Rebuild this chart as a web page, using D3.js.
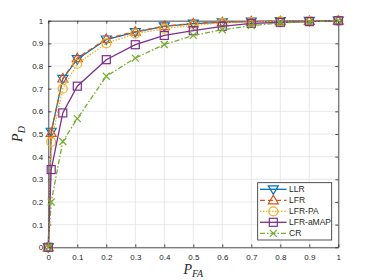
<!DOCTYPE html>
<html>
<head>
<meta charset="utf-8">
<script src="https://cdn.jsdelivr.net/npm/d3@7"></script>
<style>
  body { margin: 0; background: #fff; }
  svg { display: block; }
  .tick text { font-family: "Liberation Sans", Arial, sans-serif; font-size: 8px; fill: #262626; }
</style>
</head>
<body>
<div id="chart"></div>
<script>
var width = 374,
    height = 280;

// P_FA values (x) shared by all curves
var pfa = [0, 0.01, 0.05, 0.1, 0.2, 0.3, 0.4, 0.5, 0.6, 0.7, 0.8, 0.9, 1];
var names = ["LLR", "LFR", "LFR-PA", "LFR-aMAP", "CR"];
var llr   = [0, 0.51, 0.743, 0.83, 0.917, 0.95, 0.975, 0.987, 0.993, 0.996, 0.998, 0.999, 1];
var lfr   = [0, 0.505, 0.745, 0.835, 0.92, 0.952, 0.976, 0.988, 0.994, 0.997, 0.998, 0.999, 1];
var lfrpa = [0, 0.465, 0.70, 0.81, 0.90, 0.943, 0.965, 0.98, 0.99, 0.994, 0.997, 0.999, 1];
var amap  = [0, 0.343, 0.593, 0.711, 0.828, 0.894, 0.935, 0.956, 0.975, 0.988, 0.992, 0.996, 1];
var cr    = [0, 0.20, 0.467, 0.568, 0.755, 0.835, 0.895, 0.935, 0.96, 0.978, 0.99, 0.996, 1];
var xTicks = [0, 0.1, 0.2, 0.3, 0.4, 0.5, 0.6, 0.7, 0.8, 0.9, 1];
var yTicks = [0, 0.1, 0.2, 0.3, 0.4, 0.5, 0.6, 0.7, 0.8, 0.9, 1];

var series = [
  {name: names[0], values: llr,   color: "#0072BD", dash: null,      marker: "tridown"},
  {name: names[1], values: lfr,   color: "#D95319", dash: "5,3",     marker: "triup"},
  {name: names[2], values: lfrpa, color: "#EDB120", dash: "1.5,1.5", marker: "circle"},
  {name: names[3], values: amap,  color: "#7E2F8E", dash: null,      marker: "square"},
  {name: names[4], values: cr,    color: "#77AC30", dash: "5,2,1.5,2", marker: "cross"}
];

// plot box
var pLeft = 48.3, pRight = 338.3, pTop = 20.7, pBottom = 247.3;

var svg = d3.select("#chart").append("svg")
  .attr("width", width)
  .attr("height", height);

var x = d3.scaleLinear().domain([0, 1]).range([pLeft, pRight]);
var y = d3.scaleLinear().domain([0, 1]).range([pBottom, pTop]);

// grid
var grid = svg.append("g");
grid.selectAll(".gx").data(xTicks).enter().append("line")
  .attr("x1", d => x(d)).attr("x2", d => x(d))
  .attr("y1", pTop).attr("y2", pBottom)
  .attr("stroke", "#e3e3e3").attr("stroke-width", 0.8);
grid.selectAll(".gy").data(yTicks).enter().append("line")
  .attr("y1", d => y(d)).attr("y2", d => y(d))
  .attr("x1", pLeft).attr("x2", pRight)
  .attr("stroke", "#e3e3e3").attr("stroke-width", 0.8);

// axes, ticks inward like matlab
function styleAxis(g) {
  g.select(".domain").attr("stroke", "#262626").attr("stroke-width", 0.8);
  g.selectAll(".tick line").attr("stroke", "#262626").attr("stroke-width", 0.8);
}
svg.append("g").attr("transform", "translate(0," + pBottom + ")")
  .call(d3.axisBottom(x).tickValues(xTicks).tickSizeInner(-3).tickSizeOuter(0).tickPadding(7).tickFormat(d3.format("~g")))
  .call(styleAxis);
svg.append("g").attr("transform", "translate(0," + pTop + ")")
  .call(d3.axisTop(x).tickValues(xTicks).tickSizeInner(-3).tickSizeOuter(0).tickFormat(""))
  .call(styleAxis);
svg.append("g").attr("transform", "translate(" + pLeft + ",0)")
  .call(d3.axisLeft(y).tickValues(yTicks).tickSizeInner(-3).tickSizeOuter(0).tickPadding(5).tickFormat(d3.format("~g")))
  .call(styleAxis);
svg.append("g").attr("transform", "translate(" + pRight + ",0)")
  .call(d3.axisRight(y).tickValues(yTicks).tickSizeInner(-3).tickSizeOuter(0).tickFormat(""))
  .call(styleAxis);

// marker shapes
function drawMarker(g, type, color) {
  if (type === "tridown") {
    g.append("path").attr("d", "M-5,-3.5L5,-3.5L0,5Z");
  } else if (type === "triup") {
    g.append("path").attr("d", "M-5,3.5L5,3.5L0,-5Z");
  } else if (type === "circle") {
    g.append("circle").attr("r", 4.5);
  } else if (type === "square") {
    g.append("rect").attr("x", -4).attr("y", -4).attr("width", 8).attr("height", 8);
  } else if (type === "cross") {
    g.append("path").attr("d", "M-3.5,-3.5L3.5,3.5M-3.5,3.5L3.5,-3.5");
  }
  g.selectAll("*").attr("fill", "none").attr("stroke", color).attr("stroke-width", 1.2);
}

var line = d3.line().x(d => x(d[0])).y(d => y(d[1]));

series.forEach(function(s) {
  var pts = pfa.map((p, i) => [p, s.values[i]]);
  var g = svg.append("g");
  g.append("path")
    .attr("d", line(pts))
    .attr("fill", "none")
    .attr("stroke", s.color)
    .attr("stroke-width", 1.3)
    .attr("stroke-dasharray", s.dash);
  g.selectAll(".m").data(pts).enter().append("g")
    .attr("transform", d => "translate(" + x(d[0]) + "," + y(d[1]) + ")")
    .each(function() { drawMarker(d3.select(this), s.marker, s.color); });
});

// legend
var lg = svg.append("g");
lg.append("rect")
  .attr("x", 257.7).attr("y", 182.7)
  .attr("width", 74).attr("height", 57.3)
  .attr("fill", "#fff").attr("stroke", "#262626").attr("stroke-width", 0.8);
series.forEach(function(s, i) {
  var ly = 189.3 + i * 11;
  lg.append("line")
    .attr("x1", 260).attr("x2", 286.5)
    .attr("y1", ly).attr("y2", ly)
    .attr("stroke", s.color).attr("stroke-width", 1.3)
    .attr("stroke-dasharray", s.dash);
  var m = lg.append("g").attr("transform", "translate(273.3," + ly + ")");
  drawMarker(m, s.marker, s.color);
  lg.append("text")
    .attr("x", 289).attr("y", ly).attr("dy", "0.35em")
    .attr("font-family", "Liberation Sans, Arial, sans-serif")
    .attr("font-size", 8.5).attr("fill", "#262626")
    .text(s.name);
});

// axis labels
var yl = svg.append("text")
  .attr("transform", "translate(22," + ((pTop + pBottom) / 2) + ") rotate(-90)")
  .attr("text-anchor", "middle")
  .attr("font-family", "Liberation Serif, Times New Roman, serif")
  .attr("font-style", "italic")
  .attr("font-size", 14).attr("fill", "#262626");
yl.append("tspan").text("P");
yl.append("tspan").attr("font-size", 10).attr("dy", 3).text("D");

var xl = svg.append("text")
  .attr("x", (pLeft + pRight) / 2).attr("y", 274)
  .attr("text-anchor", "middle")
  .attr("font-family", "Liberation Serif, Times New Roman, serif")
  .attr("font-style", "italic")
  .attr("font-size", 14).attr("fill", "#262626");
xl.append("tspan").text("P");
xl.append("tspan").attr("font-size", 10).attr("dy", 3).text("FA");
</script>
</body>
</html>
